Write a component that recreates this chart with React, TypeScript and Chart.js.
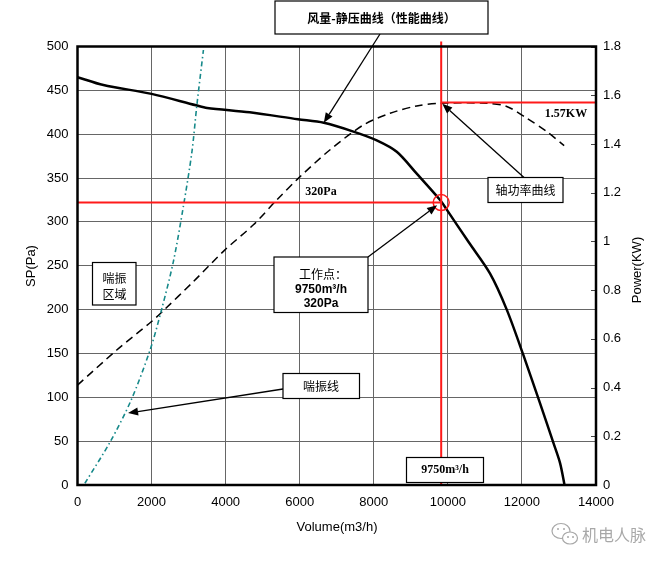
import React, { useEffect, useRef } from 'react';
import { Chart, registerables } from 'chart.js';

Chart.register(...registerables);

// ---- data ----
const spVolume = [0, 700, 2000, 3200, 3500, 4650, 5950, 6650, 7450, 8080, 8620, 9160, 9790, 9970, 10560, 11140, 11590, 12040, 12490, 12850, 13030, 13150];
const spPressure = [465, 456, 446, 433, 430, 425, 417, 413, 403, 393, 380, 355, 325, 314, 277, 241, 200, 148, 93, 48, 25, 0];

const powerVolume = [0, 1060, 2000, 2320, 3130, 3980, 4750, 5380, 6010, 6820, 7720, 8440, 9160, 9790, 11050, 11590, 12130, 12670, 13140];
const powerKW = [0.41, 0.554, 0.671, 0.716, 0.835, 0.965, 1.068, 1.17, 1.266, 1.376, 1.478, 1.526, 1.556, 1.567, 1.567, 1.554, 1.506, 1.451, 1.393];

const surgeVolume = [200, 880, 1440, 1960, 2270, 2590, 2860, 3090, 3220, 3400];
const surgePressure = [2, 49, 96, 154, 200, 255, 318, 380, 432, 496];

const opVolume = 9820;
const opPressure = 322;
const opPower = 1.57;

const curveArrowTip = { x: 6650, y: 413 };
const powerArrowTip = { x: 9850, y: 1.565 };
const workArrowTip = { x: 9710, y: 319 };
const surgeArrowTip = { x: 1365, y: 82 };

const SANS = "Arial, 'Liberation Sans', sans-serif";
const SERIF = "'Times New Roman', 'Liberation Serif', serif";
const CJK = "'Noto Sans CJK SC', sans-serif";

function drawArrow(ctx: CanvasRenderingContext2D, x1: number, y1: number, x2: number, y2: number) {
  const a = Math.atan2(y2 - y1, x2 - x1);
  const L = 10, W = 4;
  const bx = x2 - L * Math.cos(a), by = y2 - L * Math.sin(a);
  ctx.save();
  ctx.strokeStyle = '#000';
  ctx.fillStyle = '#000';
  ctx.lineWidth = 1.3;
  ctx.beginPath();
  ctx.moveTo(x1, y1);
  ctx.lineTo(bx, by);
  ctx.stroke();
  ctx.beginPath();
  ctx.moveTo(x2, y2);
  ctx.lineTo(bx + W * Math.sin(a), by - W * Math.cos(a));
  ctx.lineTo(bx - W * Math.sin(a), by + W * Math.cos(a));
  ctx.closePath();
  ctx.fill();
  ctx.restore();
}

function drawBox(ctx: CanvasRenderingContext2D, x: number, y: number, w: number, h: number) {
  ctx.save();
  ctx.fillStyle = '#fff';
  ctx.fillRect(x, y, w, h);
  ctx.strokeStyle = '#000';
  ctx.lineWidth = 1.2;
  ctx.strokeRect(x, y, w, h);
  ctx.restore();
}

function text(ctx: CanvasRenderingContext2D, s: string, x: number, y: number, font: string, color = '#000') {
  ctx.save();
  ctx.font = font;
  ctx.fillStyle = color;
  ctx.textAlign = 'center';
  ctx.textBaseline = 'middle';
  ctx.fillText(s, x, y);
  ctx.restore();
}

const annotPlugin = {
  id: 'annot',
  afterDatasetsDraw(chart: any) {
    const ctx: CanvasRenderingContext2D = chart.ctx;
    const ca = chart.chartArea;
    const xs = chart.scales.x, ys = chart.scales.y, y1 = chart.scales.y1;

    // inward tick marks on the right axis
    ctx.save();
    ctx.strokeStyle = '#444';
    ctx.lineWidth = 1;
    y1.ticks.forEach((t: any) => {
      const py = Math.round(y1.getPixelForValue(t.value)) + 0.5;
      ctx.beginPath();
      ctx.moveTo(ca.right - 5, py);
      ctx.lineTo(ca.right, py);
      ctx.stroke();
    });
    ctx.restore();

    // red operating-point lines
    const ox = xs.getPixelForValue(opVolume);
    const oy = ys.getPixelForValue(opPressure);
    const py1 = y1.getPixelForValue(opPower);
    ctx.save();
    ctx.strokeStyle = '#ff1a1a';
    ctx.lineWidth = 2;
    ctx.beginPath();
    ctx.moveTo(ca.left, oy);
    ctx.lineTo(ox, oy);
    ctx.moveTo(ox, ca.top - 5);
    ctx.lineTo(ox, ca.bottom);
    ctx.moveTo(ox, py1);
    ctx.lineTo(ca.right, py1);
    ctx.stroke();
    ctx.lineWidth = 1.5;
    ctx.beginPath();
    ctx.arc(ox, oy, 8, 0, Math.PI * 2);
    ctx.stroke();
    ctx.restore();

    // frame
    ctx.save();
    ctx.strokeStyle = '#000';
    ctx.lineWidth = 2.5;
    ctx.strokeRect(ca.left, ca.top, ca.right - ca.left, ca.bottom - ca.top);
    ctx.restore();

    // arrows
    drawArrow(ctx, 380, 34, xs.getPixelForValue(curveArrowTip.x), ys.getPixelForValue(curveArrowTip.y));
    drawArrow(ctx, 524, 177.5, xs.getPixelForValue(powerArrowTip.x), y1.getPixelForValue(powerArrowTip.y));
    drawArrow(ctx, 368, 257, xs.getPixelForValue(workArrowTip.x), ys.getPixelForValue(workArrowTip.y));
    drawArrow(ctx, 283, 389, xs.getPixelForValue(surgeArrowTip.x), ys.getPixelForValue(surgeArrowTip.y));

    // boxes
    drawBox(ctx, 275, 1, 213, 33);
    text(ctx, '风量-静压曲线（性能曲线）', 381.5, 18, `bold 12px ${CJK}`);

    drawBox(ctx, 488, 177.5, 75, 25);
    text(ctx, '轴功率曲线', 525.5, 190, `12px ${CJK}`);

    text(ctx, '1.57KW', 566, 114, `bold 12px ${SERIF}`);
    text(ctx, '320Pa', 321, 192, `bold 12px ${SERIF}`);

    drawBox(ctx, 274, 257, 94, 55.5);
    text(ctx, '工作点：', 323, 274, `12px ${CJK}`);
    text(ctx, '9750m³/h', 321, 289.5, `bold 12px ${SANS}`);
    text(ctx, '320Pa', 321, 303.5, `bold 12px ${SANS}`);

    drawBox(ctx, 92.5, 262.5, 43.5, 42.5);
    text(ctx, '喘振', 114.5, 278, `12px ${CJK}`);
    text(ctx, '区域', 114.5, 294, `12px ${CJK}`);

    drawBox(ctx, 283, 373.5, 76.5, 25);
    text(ctx, '喘振线', 321, 386, `12px ${CJK}`);

    drawBox(ctx, 406.5, 457.5, 77, 25);
    text(ctx, '9750m³/h', 445, 470, `bold 12px ${SERIF}`);
  },
  afterDraw(chart: any) {
    const ctx: CanvasRenderingContext2D = chart.ctx;
    // axis titles
    ctx.save();
    ctx.font = `13px ${SANS}`;
    ctx.fillStyle = '#000';
    ctx.textAlign = 'center';
    ctx.textBaseline = 'middle';
    ctx.fillText('Volume(m3/h)', 337, 527);
    ctx.translate(31, 266);
    ctx.rotate(-Math.PI / 2);
    ctx.fillText('SP(Pa)', 0, 0);
    ctx.restore();
    ctx.save();
    ctx.font = `13px ${SANS}`;
    ctx.fillStyle = '#000';
    ctx.textAlign = 'center';
    ctx.textBaseline = 'middle';
    ctx.translate(637, 270);
    ctx.rotate(-Math.PI / 2);
    ctx.fillText('Power(KW)', 0, 0);
    ctx.restore();

    // watermark
    ctx.save();
    ctx.strokeStyle = '#a8a8a8';
    ctx.fillStyle = '#a8a8a8';
    ctx.lineWidth = 1.2;
    ctx.beginPath();
    ctx.ellipse(561, 531, 9, 7.5, 0, 0, Math.PI * 2);
    ctx.stroke();
    ctx.fillStyle = '#fff';
    ctx.beginPath();
    ctx.ellipse(570, 538, 7.5, 6, 0, 0, Math.PI * 2);
    ctx.fill();
    ctx.stroke();
    ctx.fillStyle = '#a8a8a8';
    [[558, 529], [564, 529], [568, 537], [573, 537]].forEach(([x, y]) => {
      ctx.beginPath();
      ctx.arc(x, y, 1, 0, Math.PI * 2);
      ctx.fill();
    });
    ctx.font = `16px ${CJK}`;
    ctx.textAlign = 'left';
    ctx.textBaseline = 'middle';
    ctx.fillText('机电人脉', 582, 535);
    ctx.restore();
  },
};

export default function App() {
  const ref = useRef<HTMLCanvasElement | null>(null);

  useEffect(() => {
    if (!ref.current) return;
    Chart.defaults.font.family = SANS;
    Chart.defaults.color = '#000';
    const chart = new Chart(ref.current, {
      type: 'line',
      data: {
        datasets: [
          {
            label: '喘振线',
            data: surgeVolume.map((v, i) => ({ x: v, y: surgePressure[i] })),
            yAxisID: 'y',
            borderColor: '#16898a',
            borderWidth: 1.6,
            borderDash: [5, 3, 1.5, 3],
            pointRadius: 0,
            tension: 0.3,
            fill: false,
          },
          {
            label: '轴功率曲线',
            data: powerVolume.map((v, i) => ({ x: v, y: powerKW[i] })),
            yAxisID: 'y1',
            borderColor: '#000',
            borderWidth: 1.5,
            borderDash: [8, 5],
            pointRadius: 0,
            tension: 0.3,
            fill: false,
          },
          {
            label: '风量-静压曲线',
            data: spVolume.map((v, i) => ({ x: v, y: spPressure[i] })),
            yAxisID: 'y',
            borderColor: '#000',
            borderWidth: 2.5,
            pointRadius: 0,
            tension: 0.3,
            fill: false,
          },
        ],
      },
      options: {
        responsive: false,
        animation: false,
        events: [],
        layout: { padding: { top: 46.5, left: 0, right: 0, bottom: 0 } },
        plugins: { legend: { display: false }, tooltip: { enabled: false } },
        scales: {
          x: {
            type: 'linear',
            min: 0,
            max: 14000,
            ticks: {
              stepSize: 2000,
              padding: 10,
              maxRotation: 0,
              autoSkip: false,
              font: { size: 13 },
              color: '#000',
              callback: (v: any) => String(Math.round(Number(v))),
            },
            grid: { color: '#666', lineWidth: 1, drawTicks: false },
            border: { display: false },
            afterFit: (s: any) => { s.height = 78; },
          },
          y: {
            type: 'linear',
            position: 'left',
            min: 0,
            max: 500,
            ticks: { stepSize: 50, padding: 9, font: { size: 13 }, color: '#000' },
            grid: { color: '#666', lineWidth: 1, drawTicks: false },
            border: { display: false },
            afterFit: (s: any) => { s.width = 77.5; },
          },
          y1: {
            type: 'linear',
            position: 'right',
            min: 0,
            max: 1.8,
            ticks: {
              stepSize: 0.2,
              padding: 7,
              font: { size: 13 },
              color: '#000',
              callback: (v: any) => String(Math.round(Number(v) * 10) / 10),
            },
            grid: { display: false, drawTicks: false },
            border: { display: false },
            afterFit: (s: any) => { s.width = 74; },
          },
        },
      } as any,
      plugins: [annotPlugin],
    });
    return () => chart.destroy();
  }, []);

  return (
    <div style={{ position: 'absolute', left: 0, top: 0, width: 670, height: 563, background: '#fff' }}>
      <canvas ref={ref} width={670} height={563} style={{ display: 'block', width: 670, height: 563 }} />
    </div>
  );
}
